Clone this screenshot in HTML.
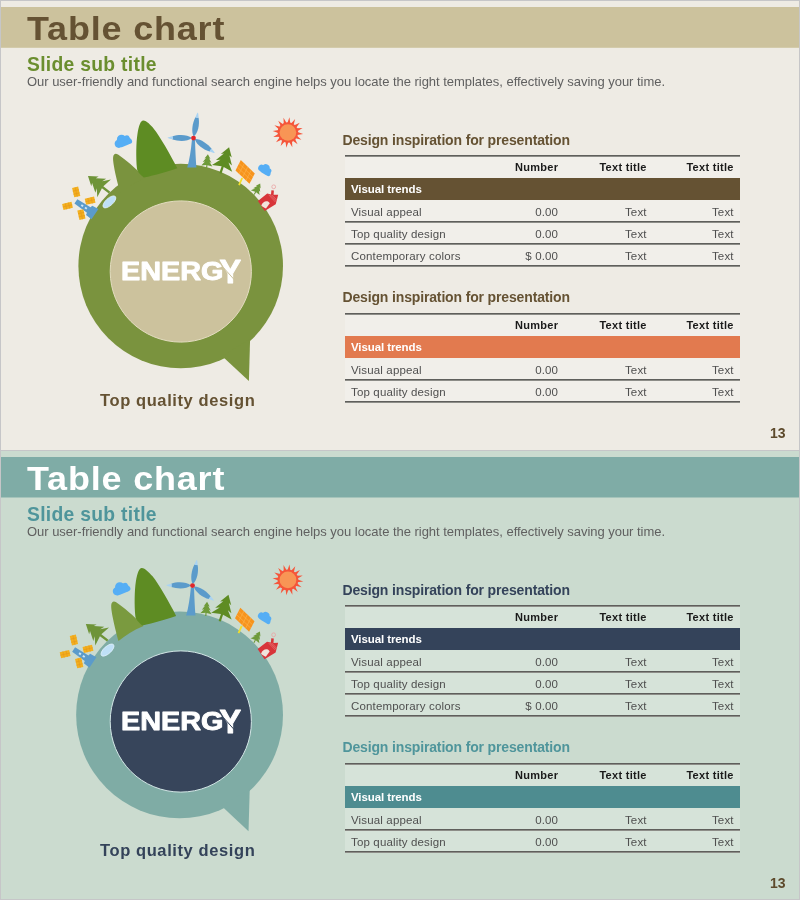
<!DOCTYPE html>
<html><head><meta charset="utf-8"><title>Table chart</title>
<style>
html,body{margin:0;padding:0;}
body{width:800px;height:900px;overflow:hidden;background:#c6c6c8;font-family:"Liberation Sans",sans-serif;position:relative;}
.slide{position:absolute;left:1px;width:798px;overflow:hidden;}
.s1{top:1px;height:449px;background:#eeebe4;}
.s2{top:451px;height:448px;background:#cbdbcf;}
.in{position:absolute;left:-1px;top:-1px;width:800px;height:450px;}
.band{position:absolute;left:0;width:800px;top:7px;height:41px;}
.s1 .band{background:linear-gradient(to bottom,#ccc29d 40px,#d3cbab 40px);}
.s2 .band{background:linear-gradient(to bottom,#7faca6 40px,#a5c4bb 40px);}
.t{position:absolute;white-space:nowrap;line-height:1;}
.title{left:26.6px;top:12px;font-size:33px;font-weight:bold;letter-spacing:0.75px;transform:scaleX(1.09);transform-origin:0 0;}
.s1 .title{color:#655233;}
.s2 .title{color:#fff;}
.sub{left:27px;top:54.5px;font-size:19.3px;font-weight:bold;letter-spacing:0.3px;}
.s1 .sub{color:#6b8e2f;}
.s2 .sub{color:#4f959b;}
.desc{left:27px;top:75px;font-size:13px;color:#606060;letter-spacing:-0.03px;}
.tt{left:342.5px;font-size:14px;font-weight:bold;letter-spacing:-0.15px;}
.hl{position:absolute;left:345px;width:395px;height:2px;background:linear-gradient(to bottom,#5f5f5c 1px,#8d8d88 1px);}
.tb{position:absolute;left:345px;width:395px;background:rgba(255,255,255,0.22);}
.bar{position:absolute;left:345px;width:395px;height:22px;}
.h{font-size:11px;font-weight:bold;color:#1a1a1a;letter-spacing:0.3px;margin-right:-0.3px;}
.c{font-size:11.5px;color:#4f4f4f;letter-spacing:0.15px;margin-right:-0.15px;}
.w{font-size:11.5px;font-weight:bold;color:#fff;left:351px;letter-spacing:-0.1px;}
.r1{right:242px}.r2{right:153.5px}.r3{right:66.5px}
.cap{left:100px;top:392px;font-size:16.5px;font-weight:bold;letter-spacing:0.6px;}
.pg{font-size:14px;font-weight:bold;right:14.5px;top:426px;color:#5d4a2c;}
</style></head><body>
<div class="slide s1"><div class="in">
<div class="band"></div>
<svg width="800" height="450" viewBox="0 0 800 450" style="position:absolute;left:0;top:0">
<g>
<circle cx="180.7" cy="266" r="102.3" fill="#7a933e"/>
<path d="M222,356 L248.9,381 L250.1,339 Z" fill="#7a933e"/>
<path d="M120.3,193 C117,181 112.6,163 113.1,157.4 C113.4,153.8 115.6,153 118,154.6 C125,159.4 135,167.5 145,178 C135,182 127,187.5 120.3,193 Z" fill="#7a933e"/>
<path d="M143.75,177.6 C140,174 137.2,172 136.9,168 C136,158 136,143 137.5,133.75 C138.8,126 140.5,120.6 143.3,120.6 C146.5,120.6 151,125.5 153.75,128.75 C160,136.5 170,154 177.3,168.2 C168,171.5 155,175 143.75,177.6 Z" fill="#5e8c23"/>
<ellipse cx="109.4" cy="201.9" rx="8" ry="3.6" transform="rotate(-42 109.4 201.9)" fill="#bfe0f7" stroke="#dff0fb" stroke-width="0.8"/>
<path d="M0,-26 L5.2,-17.6 L2.6,-18.8 L7.6,-10.6 L3.8,-12.2 L9.6,-6.6 L1,-8.4 L1,0 L-1,0 L-1,-8.4 L-9.6,-6.6 L-3.8,-12.2 L-7.6,-10.6 L-2.6,-18.8 L-5.2,-17.6 Z" fill="#6e9438" transform="translate(109.6,192.6) rotate(-52.5) scale(1.167,1.048)"/>
<path d="M0,-26 L5.2,-17.6 L2.6,-18.8 L7.6,-10.6 L3.8,-12.2 L9.6,-4.0 L1,-5.8 L1,0 L-1,0 L-1,-5.8 L-9.6,-4.0 L-3.8,-12.2 L-7.6,-10.6 L-2.6,-18.8 L-5.2,-17.6 Z" fill="#6e9a3a" transform="translate(206.6,168.2) rotate(5.3) scale(0.583,0.541)"/>
<path d="M0,-26 L5.2,-17.6 L2.6,-18.8 L7.6,-10.6 L3.8,-12.2 L9.6,-5.0 L1,-6.8 L1,0 L-1,0 L-1,-6.8 L-9.6,-5.0 L-3.8,-12.2 L-7.6,-10.6 L-2.6,-18.8 L-5.2,-17.6 Z" fill="#5e8c23" transform="translate(220.4,173.4) rotate(18.4) scale(1.111,1.058)"/>
<path d="M0,-26 L5.2,-17.6 L2.6,-18.8 L7.6,-10.6 L3.8,-12.2 L9.6,-4.5 L1,-6.3 L1,0 L-1,0 L-1,-6.3 L-9.6,-4.5 L-3.8,-12.2 L-7.6,-10.6 L-2.6,-18.8 L-5.2,-17.6 Z" fill="#6e9a3a" transform="translate(254.2,194.6) rotate(28.6) scale(0.528,0.482)"/>
<g transform="translate(78.8,203.3) rotate(-56)"><path d="M-2.6,-3.5 L2.6,-3.5 L3.2,12 L5.6,12.5 L6.2,19.5 L-6.2,19.5 L-5.6,12.5 L-3.2,12 Z" fill="#5b9bcb"/><rect x="-1" y="3" width="2" height="2.2" fill="#cfe6f7"/><rect x="-1" y="7.5" width="2" height="2.2" fill="#cfe6f7"/></g>
<g transform="translate(78.8,203.3) rotate(-13)"><rect x="-3.1" y="-16.4" width="6.2" height="9.6" fill="#f3b01f"/><path d="M0,-16.4V-6.8M-3.1,-13.2H3.1M-3.1,-10H3.1" stroke="#e79a1a" stroke-width="0.7" fill="none"/></g>
<g transform="translate(78.8,203.3) rotate(77)"><rect x="-3.1" y="-16.4" width="6.2" height="9.6" fill="#f3b01f"/><path d="M0,-16.4V-6.8M-3.1,-13.2H3.1M-3.1,-10H3.1" stroke="#e79a1a" stroke-width="0.7" fill="none"/></g>
<g transform="translate(78.8,203.3) rotate(167)"><rect x="-3.1" y="-16.4" width="6.2" height="9.6" fill="#f3b01f"/><path d="M0,-16.4V-6.8M-3.1,-13.2H3.1M-3.1,-10H3.1" stroke="#e79a1a" stroke-width="0.7" fill="none"/></g>
<g transform="translate(78.8,203.3) rotate(257)"><rect x="-3.1" y="-16.4" width="6.2" height="9.6" fill="#f3b01f"/><path d="M0,-16.4V-6.8M-3.1,-13.2H3.1M-3.1,-10H3.1" stroke="#e79a1a" stroke-width="0.7" fill="none"/></g>
<path d="M191.9,140 L195,140 C195.3,150 195.8,160 196.4,167.6 L187.2,167.6 C189.5,160 191,150 191.9,140 Z" fill="#5b9bcb"/>
<g transform="translate(193.5,138.1) rotate(9)"><path d="M0,-1.5 C3.8,-6 4,-15 1.8,-21 L-1.4,-21 C-3.4,-15 -3.6,-6 0,-1.5 Z" fill="#5b9bcb"/><path d="M1.8,-20.6 C1.5,-23 0.9,-25 0.3,-26 C-0.4,-25 -1,-23 -1.4,-20.6 Z" fill="#a9d3f3"/></g>
<g transform="translate(193.5,138.1) rotate(-90)"><path d="M0,-1.5 C3.8,-6 4,-15 1.8,-21 L-1.4,-21 C-3.4,-15 -3.6,-6 0,-1.5 Z" fill="#5b9bcb"/><path d="M1.8,-20.6 C1.5,-23 0.9,-25 0.3,-26 C-0.4,-25 -1,-23 -1.4,-20.6 Z" fill="#a9d3f3"/></g>
<g transform="translate(193.5,138.1) rotate(124.5)"><path d="M0,-1.5 C3.8,-6 4,-15 1.8,-21 L-1.4,-21 C-3.4,-15 -3.6,-6 0,-1.5 Z" fill="#5b9bcb"/><path d="M1.8,-20.6 C1.5,-23 0.9,-25 0.3,-26 C-0.4,-25 -1,-23 -1.4,-20.6 Z" fill="#a9d3f3"/></g>
<circle cx="193.5" cy="138.1" r="2.4" fill="#e0262a"/>
<g transform="translate(122.8,141.2) rotate(-22) scale(1.0)" fill="#55aef5"><circle cx="-4.6" cy="0.8" r="4.2"/><circle cx="-0.5" cy="-2.2" r="4.6"/><circle cx="4.2" cy="-0.6" r="3.6"/><circle cx="6" cy="2.4" r="2.8"/><rect x="-5" y="0" width="11.5" height="5.2" rx="2.5"/></g>
<g transform="translate(265.2,169.6) rotate(32) scale(0.82)" fill="#55aef5"><circle cx="-4.6" cy="0.8" r="4.2"/><circle cx="-0.5" cy="-2.2" r="4.6"/><circle cx="4.2" cy="-0.6" r="3.6"/><circle cx="6" cy="2.4" r="2.8"/><rect x="-5" y="0" width="11.5" height="5.2" rx="2.5"/></g>
<path d="M242.2,178 L239,185.2" stroke="#f3df2a" stroke-width="1.8" fill="none"/>
<path d="M240.8,160 L254.8,173.5 L249.5,183.8 L235.5,170.5 Z" fill="#f7941d"/>
<path d="M239,163.5 L253,177 M237.3,167 L251.3,180.4 M244.3,163.4 L239,173.9 M247.8,166.8 L242.5,177.2 M251.3,170.1 L246,180.5" stroke="#fbb651" stroke-width="0.6" fill="none"/>
<path d="M257.9,200.9 L267.2,193.6 L271,194.4 L271.4,190.2 L273.9,190.5 L273.6,194.8 L278.2,194.7 L275.7,204.2 L264.7,211 Z" fill="#d8353a"/>
<path d="M261.3,205.6 C262.5,201 268,199.6 269.8,203.2 L266,208.4 C264.5,208 262.6,207 261.3,205.6 Z" fill="#f1e4dc"/>
<path d="M268.6,194.7 L275.4,202 M270.2,194.7 L276,200.8 M271.8,194.9 L276.6,199.8" stroke="#ef8d8d" stroke-width="0.5" fill="none"/>
<circle cx="273.7" cy="186.8" r="1.9" fill="none" stroke="#eaa3a3" stroke-width="0.8"/>
<path d="M287.39,122.91 L289.43,117.28 L290.30,123.21 Z M291.10,123.45 L295.14,119.02 L293.68,124.83 Z M294.32,125.36 L299.74,122.82 L296.17,127.63 Z M296.56,128.36 L302.55,128.09 L297.41,131.16 Z M297.49,131.99 L303.12,134.03 L297.19,134.90 Z M296.95,135.70 L301.38,139.74 L295.57,138.28 Z M295.04,138.92 L297.58,144.34 L292.77,140.77 Z M292.04,141.16 L292.31,147.15 L289.24,142.01 Z M288.41,142.09 L286.37,147.72 L285.50,141.79 Z M284.70,141.55 L280.66,145.98 L282.12,140.17 Z M281.48,139.64 L276.06,142.18 L279.63,137.37 Z M279.24,136.64 L273.25,136.91 L278.39,133.84 Z M278.31,133.01 L272.68,130.97 L278.61,130.10 Z M278.85,129.30 L274.42,125.26 L280.23,126.72 Z M280.76,126.08 L278.22,120.66 L283.03,124.23 Z M283.76,123.84 L283.49,117.85 L286.56,122.99 Z" fill="#f5553a"/>
<circle cx="287.9" cy="132.5" r="10.3" fill="#f5553a"/><circle cx="287.9" cy="132.5" r="8.3" fill="#f89555"/>
</g>
<circle cx="180.8" cy="271.5" r="70.6" fill="#ccc29d" stroke="#e3dcc0" stroke-width="1"/>
<text font-family="Liberation Sans, sans-serif" font-weight="bold" font-size="26.5" fill="#fff" stroke="#fff" stroke-width="0.9" stroke-linejoin="round"><tspan x="121.0" y="280.2" textLength="102.4" lengthAdjust="spacingAndGlyphs">ENERG</tspan><tspan x="219.6" y="282.9" font-size="32.5">Y</tspan></text>
<path d="M223.4,267.6 L234.4,279.8" stroke="#ccc29d" stroke-width="1" fill="none"/>
</svg>
<div class="t title">Table chart</div>
<div class="t sub">Slide sub title</div>
<div class="t desc">Our user-friendly and functional search engine helps you locate the right templates, effectively saving your time.</div>
<div class="t tt" style="top:132.5px;color:#655233">Design inspiration for presentation</div>
<div class="tb" style="top:155px;height:111px"></div>
<div class="hl" style="top:155px"></div>
<div class="t h r1" style="top:162px">Number</div><div class="t h r2" style="top:162px">Text title</div><div class="t h r3" style="top:162px">Text title</div>
<div class="bar" style="top:178px;background:#655233"></div><div class="t w" style="top:184px">Visual trends</div>
<div class="t c" style="left:351px;top:207px">Visual appeal</div><div class="t c r1" style="top:207px">0.00</div><div class="t c r2" style="top:207px">Text</div><div class="t c r3" style="top:207px">Text</div>
<div class="hl" style="top:221px"></div>
<div class="t c" style="left:351px;top:229px">Top quality design</div><div class="t c r1" style="top:229px">0.00</div><div class="t c r2" style="top:229px">Text</div><div class="t c r3" style="top:229px">Text</div>
<div class="hl" style="top:243px"></div>
<div class="t c" style="left:351px;top:251px">Contemporary colors</div><div class="t c r1" style="top:251px">$ 0.00</div><div class="t c r2" style="top:251px">Text</div><div class="t c r3" style="top:251px">Text</div>
<div class="hl" style="top:265px"></div>
<div class="t tt" style="top:289.5px;color:#655233">Design inspiration for presentation</div>
<div class="tb" style="top:313px;height:89px"></div>
<div class="hl" style="top:313px"></div>
<div class="t h r1" style="top:320px">Number</div><div class="t h r2" style="top:320px">Text title</div><div class="t h r3" style="top:320px">Text title</div>
<div class="bar" style="top:336px;background:#e27a4f"></div><div class="t w" style="top:342px">Visual trends</div>
<div class="t c" style="left:351px;top:365px">Visual appeal</div><div class="t c r1" style="top:365px">0.00</div><div class="t c r2" style="top:365px">Text</div><div class="t c r3" style="top:365px">Text</div>
<div class="hl" style="top:379px"></div>
<div class="t c" style="left:351px;top:387px">Top quality design</div><div class="t c r1" style="top:387px">0.00</div><div class="t c r2" style="top:387px">Text</div><div class="t c r3" style="top:387px">Text</div>
<div class="hl" style="top:401px"></div>
<div class="t cap" style="color:#655233">Top quality design</div>
<div class="t pg">13</div>
</div></div>
<div class="slide s2"><div class="in">
<div class="band"></div>
<svg width="800" height="450" viewBox="0 0 800 450" style="position:absolute;left:0;top:0">
<g transform="translate(283,368.3) scale(1.011) translate(-283,-368.3)">
<circle cx="180.7" cy="266" r="102.3" fill="#7faca5"/>
<path d="M222,356 L248.9,381 L250.1,339 Z" fill="#7faca5"/>
<path d="M120.3,193 C117,181 112.6,163 113.1,157.4 C113.4,153.8 115.6,153 118,154.6 C125,159.4 135,167.5 145,178 C135,182 127,187.5 120.3,193 Z" fill="#7a9a3f"/>
<path d="M143.75,177.6 C140,174 137.2,172 136.9,168 C136,158 136,143 137.5,133.75 C138.8,126 140.5,120.6 143.3,120.6 C146.5,120.6 151,125.5 153.75,128.75 C160,136.5 170,154 177.3,168.2 C168,171.5 155,175 143.75,177.6 Z" fill="#5e8c23"/>
<ellipse cx="109.4" cy="201.9" rx="8" ry="3.6" transform="rotate(-42 109.4 201.9)" fill="#bfe0f7" stroke="#dff0fb" stroke-width="0.8"/>
<path d="M0,-26 L5.2,-17.6 L2.6,-18.8 L7.6,-10.6 L3.8,-12.2 L9.6,-6.6 L1,-8.4 L1,0 L-1,0 L-1,-8.4 L-9.6,-6.6 L-3.8,-12.2 L-7.6,-10.6 L-2.6,-18.8 L-5.2,-17.6 Z" fill="#6e9438" transform="translate(109.6,192.6) rotate(-52.5) scale(1.167,1.048)"/>
<path d="M0,-26 L5.2,-17.6 L2.6,-18.8 L7.6,-10.6 L3.8,-12.2 L9.6,-4.0 L1,-5.8 L1,0 L-1,0 L-1,-5.8 L-9.6,-4.0 L-3.8,-12.2 L-7.6,-10.6 L-2.6,-18.8 L-5.2,-17.6 Z" fill="#6e9a3a" transform="translate(206.6,168.2) rotate(5.3) scale(0.583,0.541)"/>
<path d="M0,-26 L5.2,-17.6 L2.6,-18.8 L7.6,-10.6 L3.8,-12.2 L9.6,-5.0 L1,-6.8 L1,0 L-1,0 L-1,-6.8 L-9.6,-5.0 L-3.8,-12.2 L-7.6,-10.6 L-2.6,-18.8 L-5.2,-17.6 Z" fill="#5e8c23" transform="translate(220.4,173.4) rotate(18.4) scale(1.111,1.058)"/>
<path d="M0,-26 L5.2,-17.6 L2.6,-18.8 L7.6,-10.6 L3.8,-12.2 L9.6,-4.5 L1,-6.3 L1,0 L-1,0 L-1,-6.3 L-9.6,-4.5 L-3.8,-12.2 L-7.6,-10.6 L-2.6,-18.8 L-5.2,-17.6 Z" fill="#6e9a3a" transform="translate(254.2,194.6) rotate(28.6) scale(0.528,0.482)"/>
<g transform="translate(78.8,203.3) rotate(-56)"><path d="M-2.6,-3.5 L2.6,-3.5 L3.2,12 L5.6,12.5 L6.2,19.5 L-6.2,19.5 L-5.6,12.5 L-3.2,12 Z" fill="#5b9bcb"/><rect x="-1" y="3" width="2" height="2.2" fill="#cfe6f7"/><rect x="-1" y="7.5" width="2" height="2.2" fill="#cfe6f7"/></g>
<g transform="translate(78.8,203.3) rotate(-13)"><rect x="-3.1" y="-16.4" width="6.2" height="9.6" fill="#f3b01f"/><path d="M0,-16.4V-6.8M-3.1,-13.2H3.1M-3.1,-10H3.1" stroke="#e79a1a" stroke-width="0.7" fill="none"/></g>
<g transform="translate(78.8,203.3) rotate(77)"><rect x="-3.1" y="-16.4" width="6.2" height="9.6" fill="#f3b01f"/><path d="M0,-16.4V-6.8M-3.1,-13.2H3.1M-3.1,-10H3.1" stroke="#e79a1a" stroke-width="0.7" fill="none"/></g>
<g transform="translate(78.8,203.3) rotate(167)"><rect x="-3.1" y="-16.4" width="6.2" height="9.6" fill="#f3b01f"/><path d="M0,-16.4V-6.8M-3.1,-13.2H3.1M-3.1,-10H3.1" stroke="#e79a1a" stroke-width="0.7" fill="none"/></g>
<g transform="translate(78.8,203.3) rotate(257)"><rect x="-3.1" y="-16.4" width="6.2" height="9.6" fill="#f3b01f"/><path d="M0,-16.4V-6.8M-3.1,-13.2H3.1M-3.1,-10H3.1" stroke="#e79a1a" stroke-width="0.7" fill="none"/></g>
<path d="M191.9,140 L195,140 C195.3,150 195.8,160 196.4,167.6 L187.2,167.6 C189.5,160 191,150 191.9,140 Z" fill="#5b9bcb"/>
<g transform="translate(193.5,138.1) rotate(9)"><path d="M0,-1.5 C3.8,-6 4,-15 1.8,-21 L-1.4,-21 C-3.4,-15 -3.6,-6 0,-1.5 Z" fill="#5b9bcb"/><path d="M1.8,-20.6 C1.5,-23 0.9,-25 0.3,-26 C-0.4,-25 -1,-23 -1.4,-20.6 Z" fill="#a9d3f3"/></g>
<g transform="translate(193.5,138.1) rotate(-90)"><path d="M0,-1.5 C3.8,-6 4,-15 1.8,-21 L-1.4,-21 C-3.4,-15 -3.6,-6 0,-1.5 Z" fill="#5b9bcb"/><path d="M1.8,-20.6 C1.5,-23 0.9,-25 0.3,-26 C-0.4,-25 -1,-23 -1.4,-20.6 Z" fill="#a9d3f3"/></g>
<g transform="translate(193.5,138.1) rotate(124.5)"><path d="M0,-1.5 C3.8,-6 4,-15 1.8,-21 L-1.4,-21 C-3.4,-15 -3.6,-6 0,-1.5 Z" fill="#5b9bcb"/><path d="M1.8,-20.6 C1.5,-23 0.9,-25 0.3,-26 C-0.4,-25 -1,-23 -1.4,-20.6 Z" fill="#a9d3f3"/></g>
<circle cx="193.5" cy="138.1" r="2.4" fill="#e0262a"/>
<g transform="translate(122.8,141.2) rotate(-22) scale(1.0)" fill="#55aef5"><circle cx="-4.6" cy="0.8" r="4.2"/><circle cx="-0.5" cy="-2.2" r="4.6"/><circle cx="4.2" cy="-0.6" r="3.6"/><circle cx="6" cy="2.4" r="2.8"/><rect x="-5" y="0" width="11.5" height="5.2" rx="2.5"/></g>
<g transform="translate(265.2,169.6) rotate(32) scale(0.82)" fill="#55aef5"><circle cx="-4.6" cy="0.8" r="4.2"/><circle cx="-0.5" cy="-2.2" r="4.6"/><circle cx="4.2" cy="-0.6" r="3.6"/><circle cx="6" cy="2.4" r="2.8"/><rect x="-5" y="0" width="11.5" height="5.2" rx="2.5"/></g>
<path d="M242.2,178 L239,185.2" stroke="#f3df2a" stroke-width="1.8" fill="none"/>
<path d="M240.8,160 L254.8,173.5 L249.5,183.8 L235.5,170.5 Z" fill="#f7941d"/>
<path d="M239,163.5 L253,177 M237.3,167 L251.3,180.4 M244.3,163.4 L239,173.9 M247.8,166.8 L242.5,177.2 M251.3,170.1 L246,180.5" stroke="#fbb651" stroke-width="0.6" fill="none"/>
<path d="M257.9,200.9 L267.2,193.6 L271,194.4 L271.4,190.2 L273.9,190.5 L273.6,194.8 L278.2,194.7 L275.7,204.2 L264.7,211 Z" fill="#d8353a"/>
<path d="M261.3,205.6 C262.5,201 268,199.6 269.8,203.2 L266,208.4 C264.5,208 262.6,207 261.3,205.6 Z" fill="#f1e4dc"/>
<path d="M268.6,194.7 L275.4,202 M270.2,194.7 L276,200.8 M271.8,194.9 L276.6,199.8" stroke="#ef8d8d" stroke-width="0.5" fill="none"/>
<circle cx="273.7" cy="186.8" r="1.9" fill="none" stroke="#eaa3a3" stroke-width="0.8"/>
<path d="M287.39,122.91 L289.43,117.28 L290.30,123.21 Z M291.10,123.45 L295.14,119.02 L293.68,124.83 Z M294.32,125.36 L299.74,122.82 L296.17,127.63 Z M296.56,128.36 L302.55,128.09 L297.41,131.16 Z M297.49,131.99 L303.12,134.03 L297.19,134.90 Z M296.95,135.70 L301.38,139.74 L295.57,138.28 Z M295.04,138.92 L297.58,144.34 L292.77,140.77 Z M292.04,141.16 L292.31,147.15 L289.24,142.01 Z M288.41,142.09 L286.37,147.72 L285.50,141.79 Z M284.70,141.55 L280.66,145.98 L282.12,140.17 Z M281.48,139.64 L276.06,142.18 L279.63,137.37 Z M279.24,136.64 L273.25,136.91 L278.39,133.84 Z M278.31,133.01 L272.68,130.97 L278.61,130.10 Z M278.85,129.30 L274.42,125.26 L280.23,126.72 Z M280.76,126.08 L278.22,120.66 L283.03,124.23 Z M283.76,123.84 L283.49,117.85 L286.56,122.99 Z" fill="#f5553a"/>
<circle cx="287.9" cy="132.5" r="10.3" fill="#f5553a"/><circle cx="287.9" cy="132.5" r="8.3" fill="#f89555"/>
</g>
<circle cx="180.8" cy="271.5" r="70.6" fill="#37455b" stroke="#d3e6e6" stroke-width="1"/>
<text font-family="Liberation Sans, sans-serif" font-weight="bold" font-size="26.5" fill="#fff" stroke="#fff" stroke-width="0.9" stroke-linejoin="round"><tspan x="121.0" y="280.2" textLength="102.4" lengthAdjust="spacingAndGlyphs">ENERG</tspan><tspan x="219.6" y="282.9" font-size="32.5">Y</tspan></text>
<path d="M223.4,267.6 L234.4,279.8" stroke="#37455b" stroke-width="1" fill="none"/>
</svg>
<div class="t title">Table chart</div>
<div class="t sub">Slide sub title</div>
<div class="t desc">Our user-friendly and functional search engine helps you locate the right templates, effectively saving your time.</div>
<div class="t tt" style="top:132.5px;color:#34435a">Design inspiration for presentation</div>
<div class="tb" style="top:155px;height:111px"></div>
<div class="hl" style="top:155px"></div>
<div class="t h r1" style="top:162px">Number</div><div class="t h r2" style="top:162px">Text title</div><div class="t h r3" style="top:162px">Text title</div>
<div class="bar" style="top:178px;background:#34435a"></div><div class="t w" style="top:184px">Visual trends</div>
<div class="t c" style="left:351px;top:207px">Visual appeal</div><div class="t c r1" style="top:207px">0.00</div><div class="t c r2" style="top:207px">Text</div><div class="t c r3" style="top:207px">Text</div>
<div class="hl" style="top:221px"></div>
<div class="t c" style="left:351px;top:229px">Top quality design</div><div class="t c r1" style="top:229px">0.00</div><div class="t c r2" style="top:229px">Text</div><div class="t c r3" style="top:229px">Text</div>
<div class="hl" style="top:243px"></div>
<div class="t c" style="left:351px;top:251px">Contemporary colors</div><div class="t c r1" style="top:251px">$ 0.00</div><div class="t c r2" style="top:251px">Text</div><div class="t c r3" style="top:251px">Text</div>
<div class="hl" style="top:265px"></div>
<div class="t tt" style="top:289.5px;color:#4f959b">Design inspiration for presentation</div>
<div class="tb" style="top:313px;height:89px"></div>
<div class="hl" style="top:313px"></div>
<div class="t h r1" style="top:320px">Number</div><div class="t h r2" style="top:320px">Text title</div><div class="t h r3" style="top:320px">Text title</div>
<div class="bar" style="top:336px;background:#4e8c90"></div><div class="t w" style="top:342px">Visual trends</div>
<div class="t c" style="left:351px;top:365px">Visual appeal</div><div class="t c r1" style="top:365px">0.00</div><div class="t c r2" style="top:365px">Text</div><div class="t c r3" style="top:365px">Text</div>
<div class="hl" style="top:379px"></div>
<div class="t c" style="left:351px;top:387px">Top quality design</div><div class="t c r1" style="top:387px">0.00</div><div class="t c r2" style="top:387px">Text</div><div class="t c r3" style="top:387px">Text</div>
<div class="hl" style="top:401px"></div>
<div class="t cap" style="color:#34435a">Top quality design</div>
<div class="t pg">13</div>
</div></div>
</body></html>
